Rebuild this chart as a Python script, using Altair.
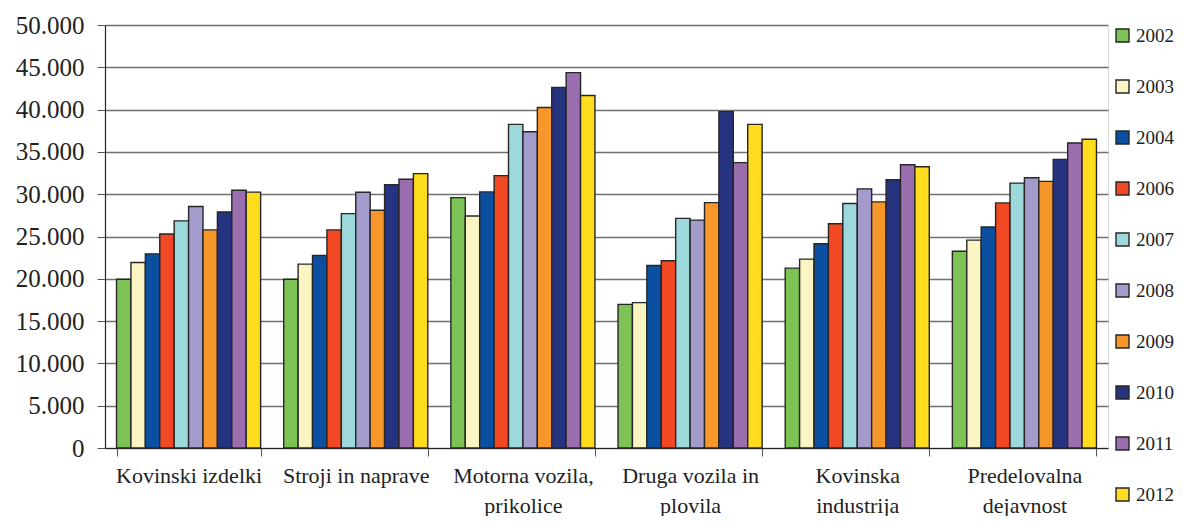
import altair as alt
import pandas as pd

categories = ["Kovinski izdelki", "Stroji in naprave", "Motorna vozila,|prikolice",
              "Druga vozila in|plovila", "Kovinska|industrija", "Predelovalna|dejavnost"]
years = ["2002", "2003", "2004", "2006", "2007", "2008", "2009", "2010", "2011", "2012"]
colors = ["#7DC255", "#FBF5C4", "#0B4FA0", "#F04923", "#9DD9DA",
          "#A39BCB", "#F7962A", "#263381", "#9B6FAF", "#FFDC1E"]

v_kovinski_izdelki = [19950, 21930, 22950, 25300, 26850, 28550, 25780, 27900, 30470, 30240]
v_stroji = [19950, 21730, 22750, 25780, 27700, 30230, 28100, 31130, 31770, 32430]
v_motorna = [29600, 27430, 30270, 32200, 38250, 37380, 40240, 42620, 44370, 41670]
v_druga = [16980, 17180, 21580, 22140, 27140, 26940, 29000, 39760, 33730, 38250]
v_kovinska = [21260, 22330, 24150, 26500, 28900, 30630, 29090, 31700, 33480, 33250]
v_predelovalna = [23260, 24570, 26130, 28970, 31310, 31940, 31520, 34120, 36060, 36500]

series = [v_kovinski_izdelki, v_stroji, v_motorna, v_druga, v_kovinska, v_predelovalna]
rows = []
for c, vals in zip(categories, series):
    for y, v in zip(years, vals):
        rows.append({"kategorija": c, "leto": y, "vrednost": v})
df = pd.DataFrame(rows)

font = "Liberation Serif"

bars = alt.Chart(df).mark_bar(stroke="#262626", strokeWidth=1.4).encode(
    x=alt.X("kategorija:N", sort=categories, title=None,
            scale=alt.Scale(paddingInner=0.138, paddingOuter=0.069),
            axis=alt.Axis(labelAngle=0, labelFont=font, labelFontSize=22,
                          labelColor="#222", labelLineHeight=30,
                          labelExpr="split(datum.label, '|')",
                          labelPadding=9, tickBand="extent", tickSize=8,
                          tickColor="#555", domainColor="#222",
                          domainWidth=1.2, grid=False, labelBaseline="top")),
    xOffset=alt.XOffset("leto:N", sort=years, scale=alt.Scale(paddingInner=0, paddingOuter=0)),
    y=alt.Y("vrednost:Q", title=None,
            scale=alt.Scale(domain=[0, 50000], nice=False),
            axis=alt.Axis(values=list(range(0, 50001, 5000)),
                          labelExpr="replace(format(datum.value, ','), ',', '.')",
                          labelFont=font, labelFontSize=25, labelColor="#222",
                          labelPadding=13, tickSize=8, tickColor="#555",
                          domainColor="#222", domainWidth=1.2,
                          grid=True, gridColor="#707070", gridWidth=1.3)),
    color=alt.Color("leto:N", sort=years, title=None,
                    scale=alt.Scale(domain=years, range=colors),
                    legend=alt.Legend(orient="none", legendX=1008, legendY=1,
                                      symbolType="square", symbolSize=169,
                                      symbolStrokeColor="#262626", symbolStrokeWidth=1.4,
                                      labelFont=font, labelFontSize=19, labelColor="#222",
                                      rowPadding=31, labelOffset=4, padding=0)),
)

chart = bars.properties(
    width=1003, height=423,
    autosize=alt.AutoSizeParams(type="none"),
    padding={"left": 97, "top": 17, "right": 72, "bottom": 68},
).configure_view(stroke=None).configure(background="white")

chart.save("out.html", embed_options={"renderer": "svg", "actions": False})
